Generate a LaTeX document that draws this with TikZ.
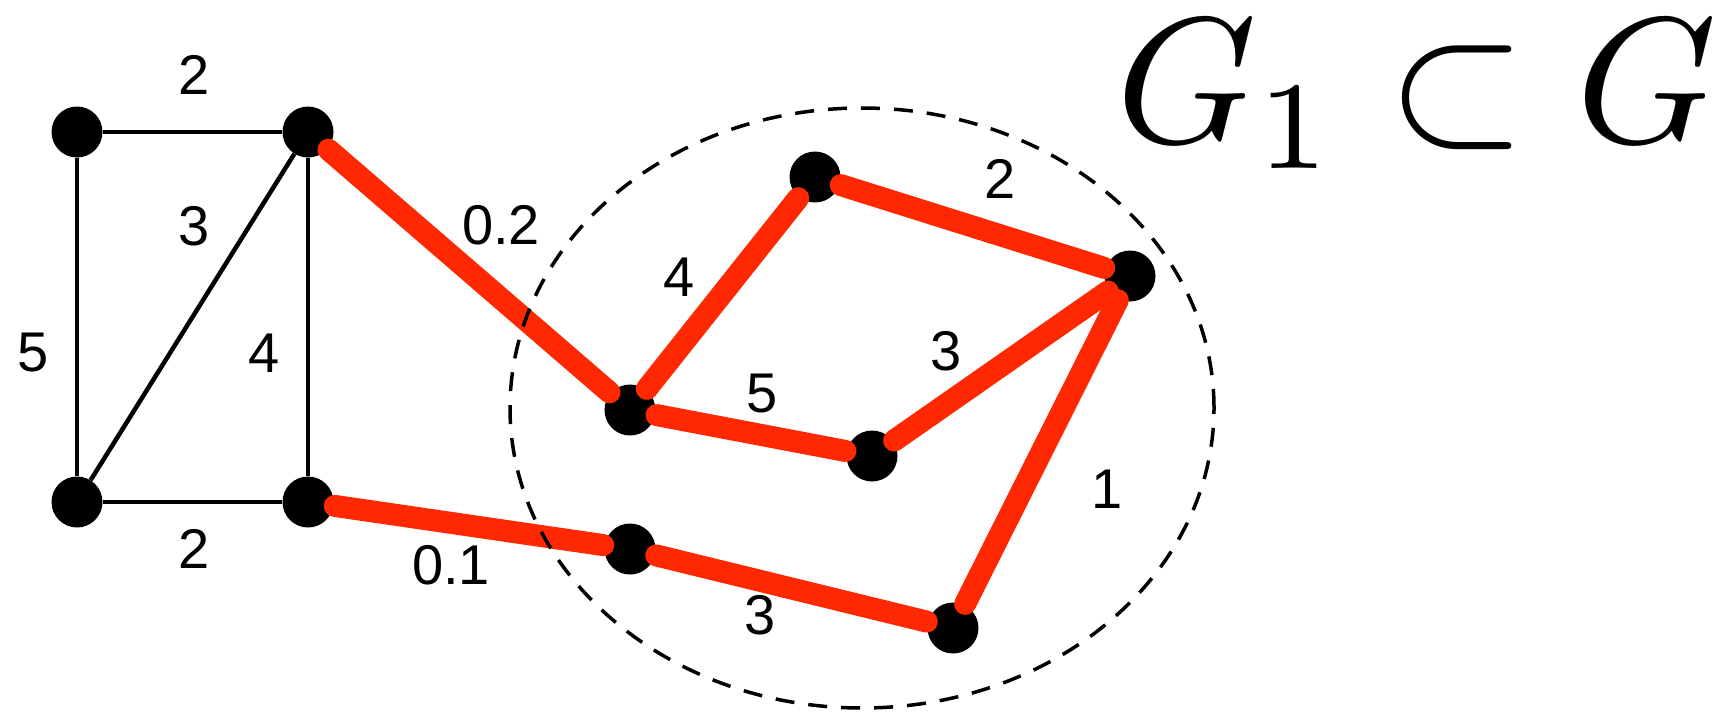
\documentclass[tikz,border=0pt]{standalone}
\usepackage{fontspec}
\newfontfamily\lab{Liberation Sans}
\definecolor{redline}{RGB}{255,40,0}
\begin{document}
\begin{tikzpicture}[x=1pt,y=-1pt,
  dot/.style={circle,fill=black,minimum size=51pt,inner sep=0pt},
  blackedge/.style={draw=black,line width=4.5pt},
  rededge/.style={draw=redline,line width=22pt,line cap=round,shorten <=27pt,shorten >=27pt},
  lbl/.style={font=\lab\fontsize{56}{60}\selectfont,inner sep=0pt},
  ring/.style={draw=black,line width=3.5pt,dash pattern=on 19pt off 14pt}]
\useasboundingbox (0,0) rectangle (1731,715);
% vertices
\node[dot] (A) at (77,132) {};
\node[dot] (B) at (308,132) {};
\node[dot] (C) at (77,502) {};
\node[dot] (D) at (308,502) {};
\node[dot] (E) at (630,410) {};
\node[dot] (F) at (815,177) {};
\node[dot] (H) at (1130,276) {};
\node[dot] (I) at (872,456) {};
\node[dot] (J) at (630,549) {};
\node[dot] (K) at (953,628) {};
% black edges
\draw[blackedge] (A) -- (B);
\draw[blackedge] (A) -- (C);
\draw[blackedge] (C) -- (D);
\draw[blackedge] (C) -- (B);
\draw[blackedge] (B) -- (D);
% red edges
\draw[rededge] (B.center) -- (E.center);
\draw[rededge] (D.center) -- (J.center);
\draw[rededge] (J.center) -- (K.center);
\draw[rededge] (K.center) -- (H.center);
\draw[rededge] (E.center) -- (F.center);
\draw[rededge] (F.center) -- (H.center);
\draw[rededge] (E.center) -- (I.center);
\draw[rededge] (I.center) -- (H.center);
% dashed region
\draw[ring] (862,408) ellipse [x radius=352pt, y radius=300pt];
% labels
\node[lbl] (l1) at (194,75) {2};
\node[lbl] (l2) at (194,226) {3};
\node[lbl] (l3) at (33,353) {5};
\node[lbl] (l4) at (264,353) {4};
\node[lbl] (l5) at (194,549) {2};
\node[lbl] (l6) at (501,225) {0.2};
\node[lbl] (l7) at (451,565) {0.1};
\node[lbl] (l8) at (679,277) {4};
\node[lbl] (l9) at (1000,179) {2};
\node[lbl] (l10) at (946,351) {3};
\node[lbl] (l11) at (762,394) {5};
\node[lbl] (l12) at (1107,489) {1};
\node[lbl] (l13) at (760,615) {3};
% title
\node[anchor=base west,inner sep=0pt,scale=17.9] (eq) at (1113,142) {$G_1\subset G$};
\end{tikzpicture}
\end{document}
